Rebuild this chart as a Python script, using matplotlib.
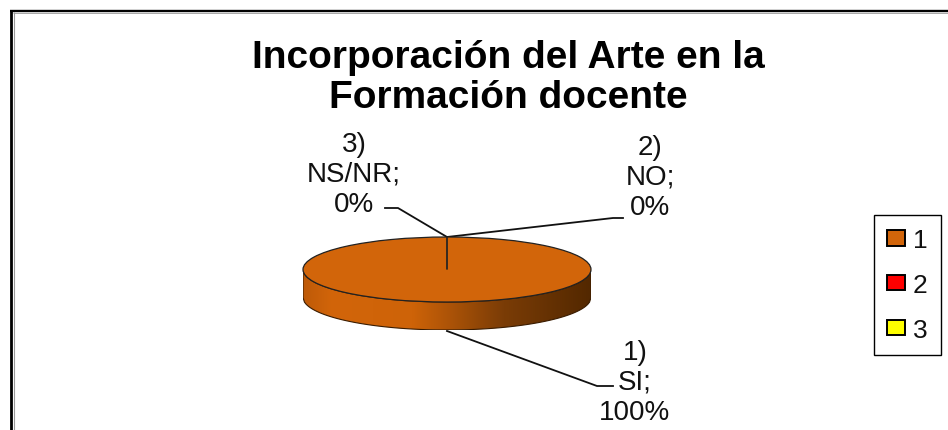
import matplotlib
matplotlib.use("Agg")
import matplotlib.pyplot as plt
import numpy as np
from matplotlib.colors import LinearSegmentedColormap
from matplotlib.patches import Polygon

W, H = 948, 431
TITLE = "Incorporación del Arte en la\nFormación docente"
LEGEND_LABELS = ["1", "2", "3"]
VALUES = [100, 0, 0]
COLORS = ["#D2650A", "#FF0000", "#FFFF00"]
SLICE_LABELS = ["1)\nSI;\n100%", "2)\nNO;\n0%", "3)\nNS/NR;\n0%"]

plt.rcParams["font.family"] = ["Liberation Sans", "DejaVu Sans"]

fig = plt.figure(figsize=(W / 100, H / 100), dpi=100)


def px_axes(x0, y0, x1, y1):
    # rect given in picture pixels, y down
    return fig.add_axes([x0 / W, 1 - y1 / H, (x1 - x0) / W, (y1 - y0) / H])


# overlay in pixel coords for frame, text and leader lines
bg = px_axes(0, 0, W, H)
bg.set_xlim(0, W)
bg.set_ylim(H, 0)
bg.axis("off")
bg.plot([11.4, 11.4], [H, 11], color="black", lw=2.0, solid_capstyle="butt")
bg.plot([10, W], [12, 12], color="black", lw=1.7, solid_capstyle="butt")
bg.plot([13.6, 13.6], [H, 13], color="#999999", lw=0.8, solid_capstyle="butt")
bg.plot([13, W], [13.7, 13.7], color="#999999", lw=0.6, solid_capstyle="butt")

bg.text(508, 78, TITLE, ha="center", va="center", fontsize=28, fontweight="bold",
        linespacing=1.13, color="black")

# pie, squashed to get the tilted disc
depth = 28 / 32.5
ax = px_axes(303, 238, 591, 331)
wedges, _ = ax.pie(VALUES, colors=COLORS, startangle=90, counterclock=False,
                   wedgeprops={"edgecolor": "#222222", "linewidth": 0.9, "zorder": 3})
ax.set_aspect("auto")

t = np.linspace(-1, 1, 200)
low = -np.sqrt(1 - t ** 2)
outline = np.r_[np.c_[t, low], np.c_[t[::-1], low[::-1] - depth]]
side = Polygon(outline, closed=True, transform=ax.transData, facecolor="none",
               edgecolor="#3a1c00", linewidth=0.8, zorder=2)
ax.add_patch(side)
cmap = LinearSegmentedColormap.from_list(
    "side", [(0, "#BE5A08"), (0.1, "#D2650A"), (0.38, "#CE6308"), (0.7, "#7A3C06"), (1, "#532800")])
img = ax.imshow(np.linspace(0, 1, 256).reshape(1, -1), cmap=cmap, aspect="auto",
                extent=(-1, 1, -1 - depth, 0), zorder=1)
img.set_clip_path(side)
ax.set_xlim(-1, 1)
ax.set_ylim(-1 - depth, 1)

# slice labels and leader lines
label_pos = [(635, 383), (650, 178), (354, 175)]
for s, (x, y) in zip(SLICE_LABELS, label_pos):
    bg.text(x, y, s, ha="center", va="center", fontsize=20, linespacing=1.2, color="#111111")
leaders = [
    ([447, 597, 613], [332, 387, 387]),
    ([447, 613, 623], [238, 219, 219]),
    ([447, 398, 385], [238, 209, 209]),
]
for xs, ys in leaders:
    bg.plot(xs, ys, color="#111111", lw=1.3, zorder=5)

# legend
leg = bg.legend(wedges, LEGEND_LABELS, loc="upper left", bbox_to_anchor=(874 / W, 1 - 216 / H),
                bbox_transform=fig.transFigure, fontsize=19, frameon=True, fancybox=False,
                edgecolor="black", framealpha=1, handlelength=0.68, handleheight=0.52,
                handletextpad=0.3, labelspacing=0.79, borderpad=0.5, borderaxespad=0,
                labelcolor="#111111")
leg.get_frame().set_linewidth(1.0)
for h in leg.legend_handles:
    h.set_edgecolor("black")
    h.set_linewidth(1.4)

fig.savefig("out.png", dpi=100)
